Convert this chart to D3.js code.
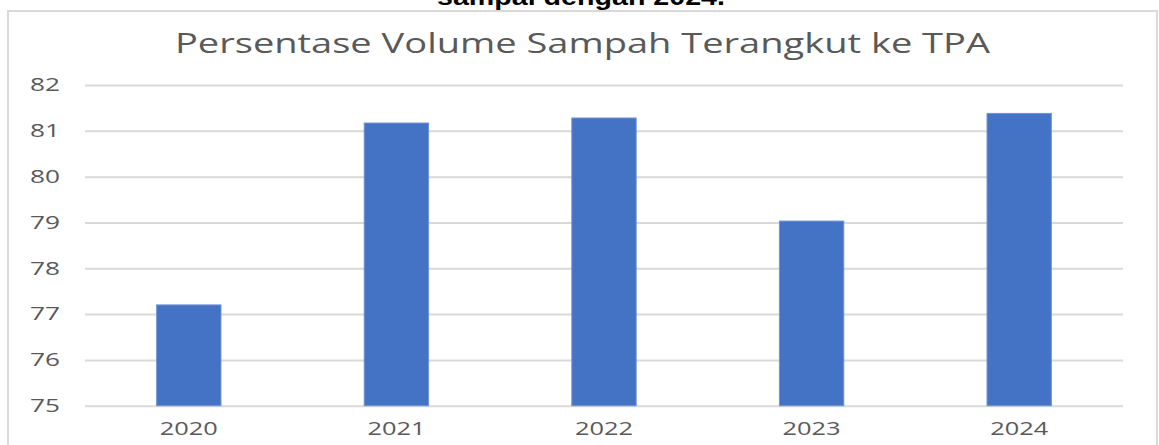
<!DOCTYPE html>
<html>
<head>
<meta charset="utf-8">
<script src="https://cdn.jsdelivr.net/npm/d3@7"></script>
<style>
  body { margin: 0; background: #fff; }
  svg { display: block; }
</style>
</head>
<body>
<div class="chart"></div>
<script>
// data
var years = ["2020", "2021", "2022", "2023", "2024"];
var persen = [77.2, 81.17, 81.28, 79.03, 81.38];
var yTicks = [75, 76, 77, 78, 79, 80, 81, 82];

var chartTitle = "Persentase Volume Sampah Terangkut ke TPA";
var caption = "sampai dengan 2024.";

var svgWidth = 1159;
var svgHeight = 445;
var plot = { left: 85, right: 1123, top: 85, bottom: 405.7 };
var textColor = "#595959";

var svg = d3.select("div.chart")
    .append("svg")
    .attr("width", svgWidth)
    .attr("height", svgHeight);

// caption line of the page, its top is cut off like in the source image
svg.append("text")
    .attr("x", 437)
    .attr("y", 5)
    .attr("textLength", 288)
    .attr("lengthAdjust", "spacingAndGlyphs")
    .style("font-family", "Liberation Sans, Arial, sans-serif")
    .style("font-weight", "bold")
    .style("font-size", "24px")
    .style("fill", "#000")
    .text(caption);

// chart frame
svg.append("rect")
    .attr("x", 8)
    .attr("y", 11)
    .attr("width", 1149)
    .attr("height", 450)
    .attr("fill", "#fff")
    .attr("stroke", "#d9d9d9")
    .attr("stroke-width", 2);

svg.append("text")
    .attr("x", 175)
    .attr("y", 53)
    .attr("textLength", 815)
    .attr("lengthAdjust", "spacingAndGlyphs")
    .style("font-family", "Open Sans, sans-serif")
    .style("font-size", "28px")
    .style("fill", textColor)
    .text(chartTitle);

var x = d3.scaleBand()
    .domain(years)
    .range([plot.left, plot.right])
    .paddingInner(0.69)
    .paddingOuter(0.345);

var y = d3.scaleLinear()
    .domain([75, 82])
    .range([plot.bottom, plot.top]);

// y axis + gridlines
var yAxis = svg.append("g")
    .attr("transform", "translate(" + plot.left + ",0)")
    .call(d3.axisLeft(y)
        .tickValues(yTicks)
        .tickFormat(d3.format("d"))
        .tickSize(-(plot.right - plot.left))
        .tickPadding(25));

yAxis.select(".domain").remove();
yAxis.selectAll(".tick line")
    .attr("stroke", "#d9d9d9")
    .attr("stroke-width", 2);
yAxis.selectAll(".tick text")
    .attr("textLength", 30)
    .attr("lengthAdjust", "spacingAndGlyphs")
    .style("font-family", "Open Sans, sans-serif")
    .style("font-size", "18px")
    .style("fill", textColor);

// bars
svg.selectAll("rect.bar")
    .data(years)
    .enter()
    .append("rect")
    .attr("class", "bar")
    .attr("x", function (d) { return x(d); })
    .attr("width", x.bandwidth())
    .attr("y", function (d, i) { return y(persen[i]); })
    .attr("height", function (d, i) { return y(75) - y(persen[i]); })
    .attr("fill", "#4472c4")
    .attr("stroke", "#7094d4")
    .attr("stroke-width", 1);

// x labels
var xAxis = svg.append("g")
    .attr("transform", "translate(0," + plot.bottom + ")")
    .call(d3.axisBottom(x).tickSize(0).tickPadding(17));

xAxis.select(".domain").remove();
xAxis.selectAll(".tick text")
    .attr("textLength", 58)
    .attr("lengthAdjust", "spacingAndGlyphs")
    .attr("dx", -29)
    .style("text-anchor", "start")
    .style("font-family", "Open Sans, sans-serif")
    .style("font-size", "18px")
    .style("fill", textColor);
</script>
</body>
</html>
